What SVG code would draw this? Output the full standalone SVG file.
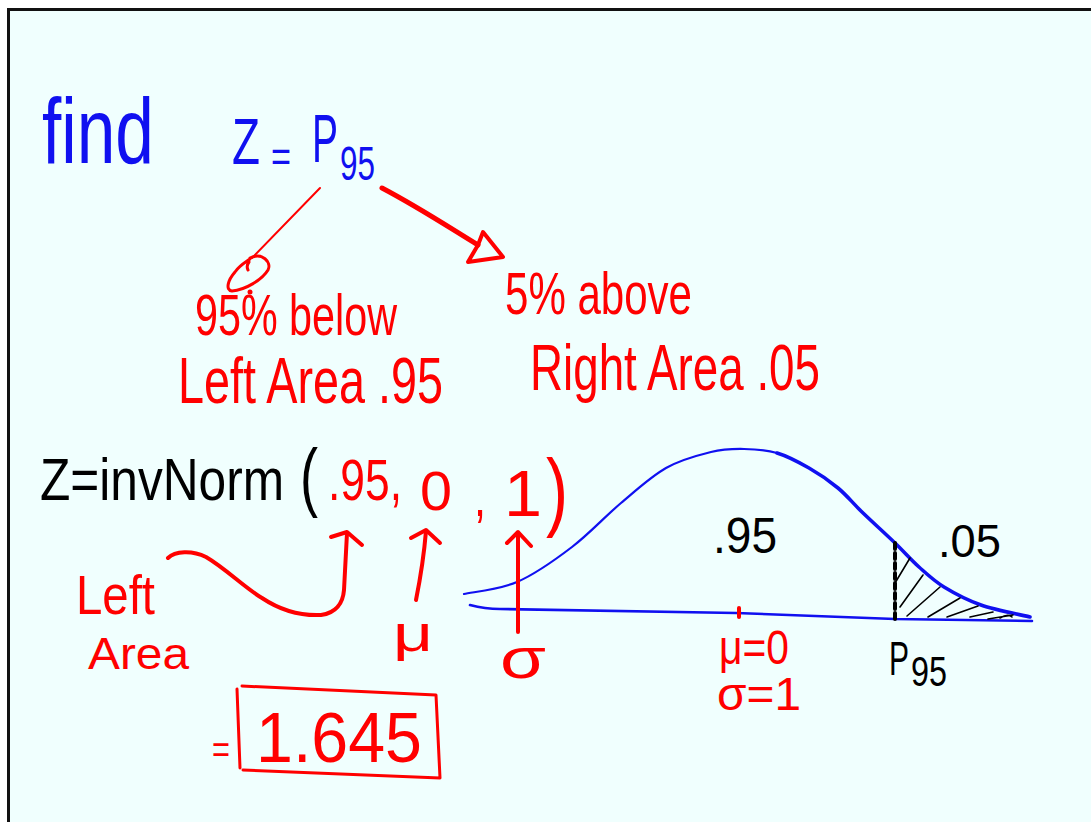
<svg xmlns="http://www.w3.org/2000/svg" width="1091" height="822" viewBox="0 0 1091 822">
<style>
text{font-family:"Liberation Sans","DejaVu Sans",sans-serif}
.b{fill:#1010F0}
.r{fill:#FF0000}
.k{fill:#000}
.rl{fill:none;stroke:#FF0000;stroke-linecap:round;stroke-linejoin:round}
.bl{fill:none;stroke:#1010F0;stroke-linecap:round;stroke-linejoin:round}
.kl{fill:none;stroke:#000;stroke-linecap:round}
</style>
<rect x="0" y="0" width="1091" height="822" fill="#FFFFFF"/>
<rect x="8.5" y="9.5" width="1100" height="830" fill="#F0FFFE" stroke="#111" stroke-width="3"/>

<g id="title">
<text class="b" x="42" y="163" font-size="92" textLength="112" lengthAdjust="spacingAndGlyphs">find</text>
<text class="b"><tspan x="232" y="164" font-size="64" textLength="28" lengthAdjust="spacingAndGlyphs">Z</tspan><tspan x="271" y="172" font-size="44" textLength="20" lengthAdjust="spacingAndGlyphs">=</tspan><tspan x="312" y="162" font-size="68" textLength="26" lengthAdjust="spacingAndGlyphs">P</tspan><tspan x="340" y="180" font-size="48" textLength="35" lengthAdjust="spacingAndGlyphs">95</tspan></text>
</g>

<g id="left-branch">
<text class="r"><tspan x="195" y="335" font-size="58" textLength="202" lengthAdjust="spacingAndGlyphs">95% below</tspan><tspan x="178" y="403" font-size="64" textLength="265" lengthAdjust="spacingAndGlyphs">Left Area .95</tspan></text>
</g>

<g id="right-branch">
<text class="r"><tspan x="505" y="314" font-size="60" textLength="187" lengthAdjust="spacingAndGlyphs">5% above</tspan><tspan x="530" y="390" font-size="64" textLength="290" lengthAdjust="spacingAndGlyphs">Right Area .05</tspan></text>
</g>

<g id="formula">
<text><tspan class="k" x="40" y="500" font-size="60" textLength="244" lengthAdjust="spacingAndGlyphs">Z=invNorm</tspan><tspan class="k" x="300" y="502" font-size="76" textLength="18" lengthAdjust="spacingAndGlyphs">(</tspan><tspan class="r" x="328" y="500" font-size="58" textLength="74" lengthAdjust="spacingAndGlyphs">.95,</tspan><tspan class="r" x="420" y="510" font-size="56" textLength="32" lengthAdjust="spacingAndGlyphs">0</tspan><tspan class="r" x="474" y="516" font-size="56" textLength="12" lengthAdjust="spacingAndGlyphs">,</tspan><tspan class="r" x="504" y="516" font-size="64" textLength="38" lengthAdjust="spacingAndGlyphs">1</tspan><tspan class="r" x="546" y="520" font-size="88" textLength="22" lengthAdjust="spacingAndGlyphs">)</tspan></text>
</g>

<g id="labels">
<text class="r"><tspan x="76" y="614" font-size="55" textLength="79" lengthAdjust="spacingAndGlyphs">Left</tspan><tspan x="88" y="669" font-size="44" textLength="101" lengthAdjust="spacingAndGlyphs">Area</tspan></text>
<text class="r" x="393" y="651" font-size="52" textLength="40" lengthAdjust="spacingAndGlyphs">μ</text>
<text class="r" x="500" y="678" font-size="58" textLength="46" lengthAdjust="spacingAndGlyphs">σ</text>
</g>

<g id="answer">
<text class="r"><tspan x="212" y="763" font-size="38" textLength="18" lengthAdjust="spacingAndGlyphs">=</tspan><tspan x="256" y="762" font-size="70" textLength="166" lengthAdjust="spacingAndGlyphs">1.645</tspan></text>
<path class="rl" stroke-width="3" d="M242,686 L436,695 L440,778 L243,770 M237,689 L240,768"/>
</g>

<g id="normal-curve">
<path class="bl" stroke-width="2.2" d="M464,594 C472.8,592 499,589.8 517,582 C535,574.2 554.7,560.2 572,547 C589.3,533.8 605.3,516.2 621,503 C636.7,489.8 651,476.5 666,468 C681,459.5 698,455.2 711,452 C724,448.8 733,448.8 744,449 C755,449.2 766.2,449.8 777,453"/>
<path class="bl" stroke-width="3.6" d="M777,453 C787.8,456.2 798.8,462.2 809,468 C819.2,473.8 829.2,480.7 838,488 C846.8,495.3 852.5,502.8 862,512 C871.5,521.2 885.5,533.8 895,543 C904.5,552.2 910.8,559.7 919,567 C927.2,574.3 933.7,580.7 944,587 C954.3,593.3 966.7,600 981,605 C995.3,610 1021.8,615 1030,617"/>
<path class="bl" stroke-width="2.6" d="M470,605 Q485,609 500,609 L736,613 L895,619 L1032,621"/>
<path class="rl" stroke-width="4" d="M739,608 L739,617"/>
<path class="kl" stroke-width="4" stroke-dasharray="6 4" d="M895,543 L895,622"/>
<path class="kl" stroke-width="1.6" d="M895,583 L910,558 M900,607 L923,575 M907,616 L940,587 M928,617 L960,598 M947,617 L978,606 M970,617 L993,612 M988,619 L1013,615 M1000,618 Q1008,613 1012,617"/>
<text class="k" x="713" y="553" font-size="50" textLength="64" lengthAdjust="spacingAndGlyphs">.95</text>
<text class="k" x="938" y="557" font-size="46" textLength="63" lengthAdjust="spacingAndGlyphs">.05</text>
<text class="r"><tspan x="719" y="664" font-size="48" textLength="70" lengthAdjust="spacingAndGlyphs">μ=0</tspan><tspan x="717" y="710" font-size="46" textLength="84" lengthAdjust="spacingAndGlyphs">σ=1</tspan></text>
<text class="k"><tspan x="889" y="675" font-size="48" textLength="20" lengthAdjust="spacingAndGlyphs">P</tspan><tspan x="911" y="686" font-size="42" textLength="36" lengthAdjust="spacingAndGlyphs">95</tspan></text>
</g>

<g id="connectors">
<path class="rl" stroke-width="2" d="M320,188 L252,258"/>
<path class="rl" stroke-width="3" d="M250,258 C262,252 272,262 268,270 C262,280 245,290 232,291 C225,290 228,280 235,272 C240,265 246,262 250,259 M249,262 Q246,266 248,270"/>
<circle cx="250" cy="292" r="2.5" fill="#FF0000"/>
<path class="rl" stroke-width="5" d="M382,188 C420,208 450,228 478,245"/>
<path class="rl" stroke-width="4" d="M478,245 L483,232 L503,257 L468,262 Z"/>
<path class="rl" stroke-width="4" d="M168,558 C175,551 192,550 206,557 C225,568 245,588 262,598 C280,610 300,616 321,615 C336,613 343,603 344,590 L347,533"/>
<path class="rl" stroke-width="4" d="M331,537 L347,532 L362,545"/>
<path class="rl" stroke-width="4" d="M416,600 C420,580 424,555 426,531"/>
<path class="rl" stroke-width="4" d="M411,538 L426,530 L440,543"/>
<path class="rl" stroke-width="4" d="M518,632 L518,533"/>
<path class="rl" stroke-width="4" d="M507,543 L518,532 L531,546"/>
</g>
</svg>
